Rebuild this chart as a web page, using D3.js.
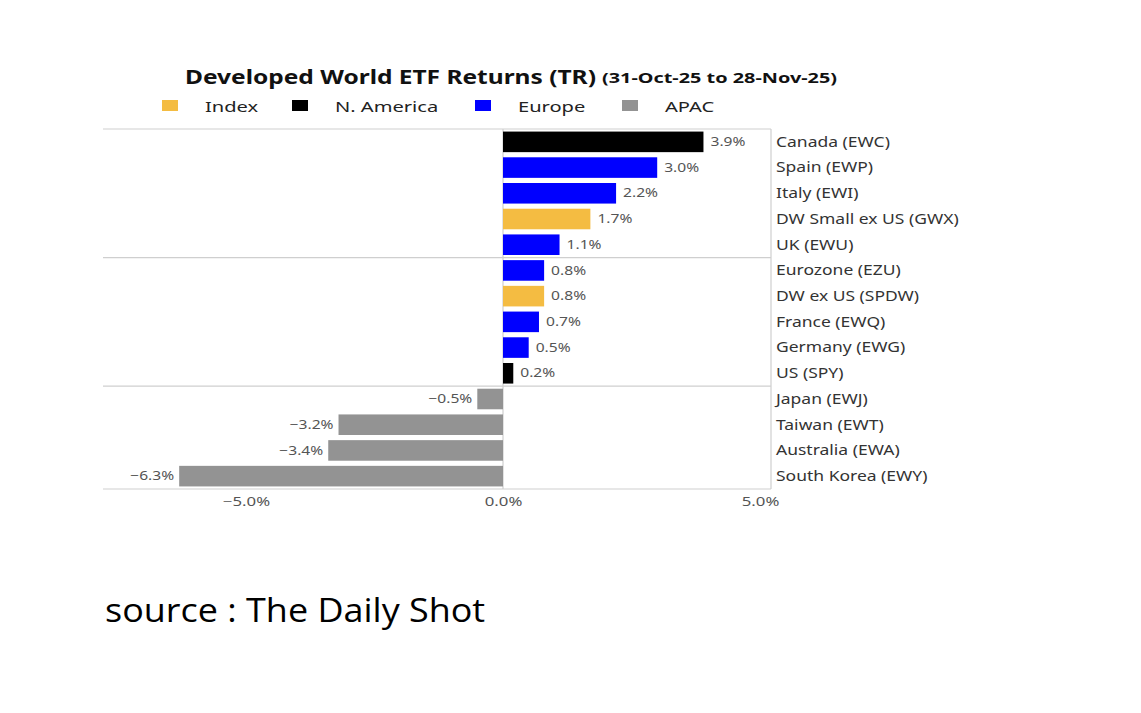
<!DOCTYPE html>
<html>
<head>
<meta charset="utf-8">
<script src="https://cdn.jsdelivr.net/npm/d3@7"></script>
<style>
  body { margin: 0; background: #fff; }
  svg { display: block; }
</style>
</head>
<body>
<div id="chart"></div>
<script>
const names = ["Canada (EWC)", "Spain (EWP)", "Italy (EWI)", "DW Small ex US (GWX)", "UK (EWU)",
  "Eurozone (EZU)", "DW ex US (SPDW)", "France (EWQ)", "Germany (EWG)", "US (SPY)",
  "Japan (EWJ)", "Taiwan (EWT)", "Australia (EWA)", "South Korea (EWY)"];
const values = [3.9, 3.0, 2.2, 1.7, 1.1, 0.8, 0.8, 0.7, 0.5, 0.2, -0.5, -3.2, -3.4, -6.3];
const groups = ["N. America", "Europe", "Europe", "Index", "Europe", "Europe", "Index", "Europe",
  "Europe", "N. America", "APAC", "APAC", "APAC", "APAC"];
const legendKeys = ["Index", "N. America", "Europe", "APAC"];
const legendColors = ["#f4bc42", "#000000", "#0000ff", "#939393"];
const xTicks = [-5, 0, 5];
const separators = [5, 10];

const dataset = names.map((n, i) => ({name: n, value: values[i], group: groups[i]}));

const W = 1141, H = 713;
const margin = {top: 129, left: 103, right: 771, bottom: 489};
const svg = d3.select("#chart").append("svg").attr("width", W).attr("height", H);

const color = d3.scaleOrdinal().domain(legendKeys).range(legendColors);

const xScale = d3.scaleLinear().domain([-5, 5]).range([246, 760]);
const yScale = d3.scaleBand().domain(names).range([margin.top, margin.bottom]).paddingInner(0.2).paddingOuter(0.1);
const font = "'Noto Sans', sans-serif";
const fmt = d => d3.format(".1f")(d).replace("-", "\u2212") + "%";

// stretched text: the reference type is wider than Noto Sans
function wideText(sel, sx) {
  return sel.append("g")
    .attr("transform", d => `translate(${d.x},${d.y}) scale(${sx},1)`)
    .append("text")
    .attr("font-family", font);
}

// title
svg.append("text")
  .attr("x", 185).attr("y", 84)
  .attr("font-family", font).attr("font-size", 20).attr("font-weight", "bold").attr("fill", "#111")
  .attr("textLength", 411).attr("lengthAdjust", "spacingAndGlyphs")
  .text("Developed World ETF Returns (TR)");
svg.append("text")
  .attr("x", 602).attr("y", 83)
  .attr("font-family", font).attr("font-size", 14).attr("font-weight", "bold").attr("fill", "#111")
  .attr("textLength", 235).attr("lengthAdjust", "spacingAndGlyphs")
  .text("(31-Oct-25 to 28-Nov-25)");

// legend
const legendX = [162, 292, 475, 622];
const lg = svg.append("g").selectAll("g").data(legendKeys).join("g")
  .attr("transform", (d, i) => `translate(${legendX[i]},100)`);
lg.append("rect").attr("width", 16).attr("height", 11).attr("fill", d => color(d));
lg.append("g").attr("transform", "translate(43,12) scale(1.34,1)")
  .append("text")
  .attr("font-family", font).attr("font-size", 15).attr("fill", "#222").text(d => d);

// frame
const grid = svg.append("g").attr("stroke", "#cfcfcf").attr("stroke-width", 1.2);
grid.append("line").attr("x1", margin.left).attr("x2", margin.right).attr("y1", margin.top).attr("y2", margin.top);
grid.append("line").attr("x1", margin.left).attr("x2", margin.right).attr("y1", margin.bottom).attr("y2", margin.bottom);
grid.append("line").attr("x1", margin.right).attr("x2", margin.right).attr("y1", margin.top).attr("y2", margin.bottom);
grid.append("line").attr("x1", xScale(0)).attr("x2", xScale(0)).attr("y1", margin.top).attr("y2", margin.bottom);
const step = yScale.step();
grid.selectAll(".sep").data(separators).join("line")
  .attr("x1", margin.left).attr("x2", margin.right)
  .attr("y1", d => margin.top + step * d)
  .attr("y2", d => margin.top + step * d);

// bars
svg.append("g").selectAll("rect").data(dataset).join("rect")
  .attr("x", d => xScale(Math.min(0, d.value)))
  .attr("y", d => yScale(d.name))
  .attr("width", d => Math.abs(xScale(d.value) - xScale(0)))
  .attr("height", yScale.bandwidth())
  .attr("fill", d => color(d.group));

// value labels
svg.append("g").selectAll("g").data(dataset).join("g")
  .attr("transform", d => `translate(${xScale(d.value) + (d.value < 0 ? -5 : 7)},${yScale(d.name) + yScale.bandwidth() / 2}) scale(1.3,1)`)
  .append("text")
  .attr("dy", "0.35em")
  .attr("text-anchor", d => d.value < 0 ? "end" : "start")
  .attr("font-family", font).attr("font-size", 12).attr("fill", "#555")
  .text(d => fmt(d.value));

// category labels
svg.append("g").selectAll("g").data(dataset).join("g")
  .attr("transform", d => `translate(776,${yScale(d.name) + yScale.bandwidth() / 2}) scale(1.25,1)`)
  .append("text")
  .attr("dy", "0.35em")
  .attr("font-family", font).attr("font-size", 14).attr("fill", "#333")
  .text(d => d.name);

// x axis
const xAxis = d3.axisBottom(xScale).tickValues(xTicks).tickSize(0).tickPadding(8).tickFormat(fmt);
svg.append("g")
  .attr("transform", `translate(0,${margin.bottom})`)
  .call(xAxis)
  .call(g => g.select(".domain").remove())
  .call(g => g.selectAll(".tick text")
    .attr("transform", "scale(1.4,1)")
    .attr("x", 0)
    .attr("font-family", font).attr("font-size", 12).attr("fill", "#555"));

// source
svg.append("g").attr("transform", "translate(105,622) scale(1.09,1)")
  .append("text")
  .attr("font-family", "'Open Sans', sans-serif").attr("font-size", 33).attr("fill", "#000")
  .text("source : The Daily Shot");
</script>
</body>
</html>
